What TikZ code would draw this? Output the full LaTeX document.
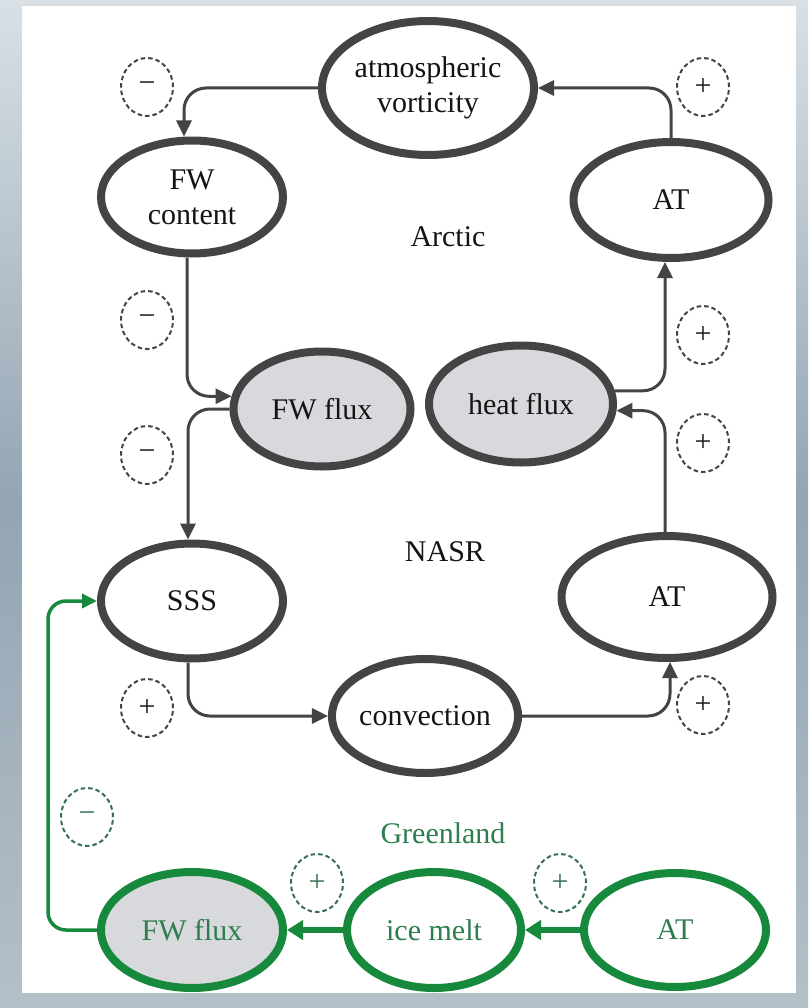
\documentclass[tikz,border=0pt]{standalone}
\usepackage{fontspec}
\setmainfont{Liberation Serif}
\usetikzlibrary{shapes.geometric,arrows.meta}
\definecolor{dk}{HTML}{444444}
\definecolor{gfill}{HTML}{D8D9DC}
\definecolor{grn}{HTML}{17893D}
\definecolor{gtxt}{HTML}{2E7D4F}
\definecolor{gdash}{HTML}{3A6E50}
\definecolor{bgA}{HTML}{D9E0E5}
\definecolor{bgM}{HTML}{93A5B3}
\definecolor{bgB}{HTML}{B4C0C8}
\begin{document}
\begin{tikzpicture}[x=1pt,y=-1pt,
  ell/.style={ellipse, draw=dk, line width=8pt, fill=white, inner sep=0pt,
    font=\fontsize{30}{35}\selectfont, text=black!92, align=center},
  gell/.style={ell, draw=grn, text=gtxt},
  sgn/.style={ellipse, draw=dk, dash pattern=on 4.5pt off 3pt, line width=2pt,
    minimum width=52, minimum height=58, inner sep=0pt, text=black!90,
    font=\fontsize{30}{30}\selectfont},
  gsgn/.style={sgn, draw=gdash, text=gdash},
  lbl/.style={font=\fontsize{30}{35}\selectfont, text=black!92},
  arr/.style={draw=dk, line width=3pt, -{Triangle[length=16pt,width=15pt]},
    rounded corners=22pt},
  garr/.style={draw=grn, line width=3.5pt, -{Triangle[length=15pt,width=14pt]},
    rounded corners=18pt},
  gbig/.style={draw=grn, line width=6pt, -{Triangle[length=16pt,width=19pt]}}
]
\useasboundingbox (0,0) rectangle (808,1008);
\shade[top color=bgA, bottom color=bgB, middle color=bgM] (0,0) rectangle (808,1008);
\fill[white] (22,6) rectangle (796,993);

% Arctic
\node[ell, minimum width=212, minimum height=134] (atm) at (428,88) {atmospheric\\vorticity};
\node[ell, minimum width=182, minimum height=113] (fwc) at (192,197) {FW\\content};
\node[ell, minimum width=195, minimum height=116] (atA) at (671,200) {AT};
\node[lbl] (arctic) at (448,237) {Arctic};
\node[ell, fill=gfill, minimum width=177, minimum height=115] (fwf) at (322,409) {FW flux};
\node[ell, fill=gfill, minimum width=184, minimum height=117] (heat) at (521,404) {heat flux};
% NASR
\node[lbl] (nasr) at (445,552) {NASR};
\node[ell, minimum width=182, minimum height=115] (sss) at (192,601) {SSS};
\node[ell, minimum width=211, minimum height=122] (atN) at (667,597) {AT};
\node[ell, minimum width=182, minimum height=114] (conv) at (425,716) {convection};
% Greenland
\node[lbl, text=gtxt] (greenland) at (443,833) {Greenland};
\node[gell, fill=gfill, minimum width=182, minimum height=116] (gfw) at (192,930) {FW flux};
\node[gell, minimum width=174, minimum height=116] (ice) at (434,930) {ice melt};
\node[gell, minimum width=182, minimum height=114] (gAT) at (675,930) {AT};

% signs
\node[sgn] (s1) at (147,87) {−};
\node[sgn] (s2) at (703,87) {+};
\node[sgn] (s3) at (147,320) {−};
\node[sgn] (s4) at (703,335) {+};
\node[sgn] (s5) at (147,455) {−};
\node[sgn] (s6) at (703,443) {+};
\node[sgn] (s7) at (147,708) {+};
\node[sgn] (s8) at (703,705) {+};
\node[gsgn] (s9) at (87,817) {−};
\node[gsgn] (s10) at (317,883) {+};
\node[gsgn] (s11) at (560,883) {+};

% connectors
\draw[arr] (atm.west) -| ([xshift=-8pt]fwc.north);
\draw[arr] (atA.north) |- (atm.east);
\draw[arr] ([xshift=-5pt]fwc.south) |- (fwf.172);
\draw[arr] (fwf.west) -| ([xshift=-4pt]sss.north);
\draw[arr] ([xshift=-4pt]sss.south) |- (conv.west);
\draw[arr] (conv.east) -| ([xshift=3pt]atN.south);
\draw[arr] ([xshift=-2pt]atN.north) |- (heat.-4);
\draw[arr] (heat.8) -| ([xshift=-6pt]atA.south);
\draw[garr] (gfw.west) -| ([xshift=-49pt]sss.west) -- (sss.west);
\draw[gbig] (ice.west) -- (gfw.east);
\draw[gbig] (gAT.west) -- (ice.east);
\end{tikzpicture}
\end{document}
